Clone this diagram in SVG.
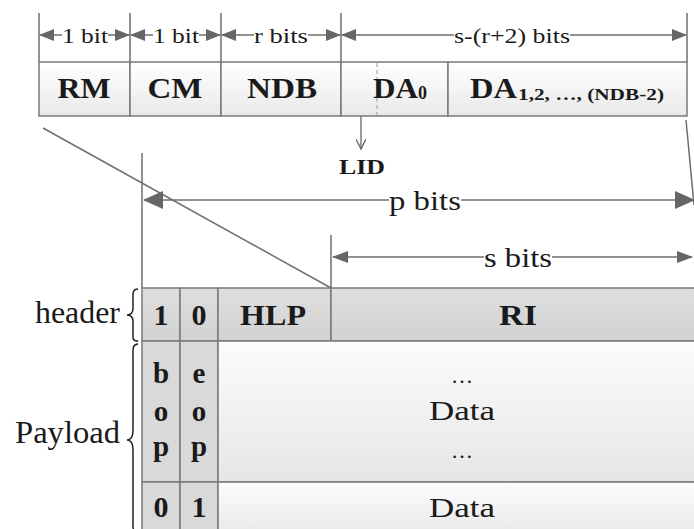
<svg xmlns="http://www.w3.org/2000/svg" width="694" height="529" viewBox="0 0 694 529">
<style>
.ln{stroke:#6e6e6e;stroke-width:1.5;fill:none}
.cell{stroke:#7a7a7a;stroke-width:1.5}
.t{font-family:"Liberation Serif","Times New Roman",serif;fill:#1a1a1a;text-anchor:middle}
.s{text-anchor:start}
.b{font-weight:bold}
.bg{fill:#fff}
</style>
<defs>
<marker id="ah" markerUnits="userSpaceOnUse" markerWidth="15" markerHeight="12" refX="14" refY="6" viewBox="0 0 15 12" orient="auto-start-reverse"><path d="M0,0 L15,6 L0,12 z" fill="#666"/></marker>
<marker id="ahb" markerUnits="userSpaceOnUse" markerWidth="20" markerHeight="18" refX="19" refY="9" viewBox="0 0 20 18" orient="auto-start-reverse"><path d="M0,0 L20,9 L0,18 z" fill="#666"/></marker>
<marker id="ahs" markerUnits="userSpaceOnUse" markerWidth="16" markerHeight="12" refX="15" refY="6" viewBox="0 0 16 12" orient="auto-start-reverse"><path d="M0,0 L16,6 L0,12 z" fill="#666"/></marker>
<marker id="open" markerUnits="userSpaceOnUse" markerWidth="12" markerHeight="10" refX="10" refY="5" viewBox="0 0 12 10" orient="auto"><path d="M0,0 L10,5 L0,10" fill="none" stroke="#666" stroke-width="1.3"/></marker>
<linearGradient id="gTop" x1="0" y1="0" x2="0" y2="1"><stop offset="0" stop-color="#ffffff"/><stop offset="1" stop-color="#e9e9e9"/></linearGradient>
<linearGradient id="gHead" x1="0" y1="0" x2="0" y2="1"><stop offset="0" stop-color="#dedede"/><stop offset="1" stop-color="#d2d2d2"/></linearGradient>
<linearGradient id="gData" x1="0" y1="0" x2="0" y2="1"><stop offset="0" stop-color="#fcfcfc"/><stop offset="1" stop-color="#e6e6e6"/></linearGradient>
</defs>

<g id="connectors">
<line class="ln" x1="39" y1="13" x2="39" y2="62"/>
<line class="ln" x1="130" y1="13" x2="130" y2="62"/>
<line class="ln" x1="221" y1="13" x2="221" y2="62"/>
<line class="ln" x1="341" y1="13" x2="341" y2="62"/>
<line class="ln" x1="687" y1="13" x2="687" y2="62"/>
<line class="ln" x1="40" y1="35" x2="129" y2="35" marker-start="url(#ah)" marker-end="url(#ah)"/>
<line class="ln" x1="131" y1="35" x2="220" y2="35" marker-start="url(#ah)" marker-end="url(#ah)"/>
<line class="ln" x1="222" y1="35" x2="340" y2="35" marker-start="url(#ah)" marker-end="url(#ah)"/>
<line class="ln" x1="342" y1="35" x2="686" y2="35" marker-start="url(#ah)" marker-end="url(#ah)"/>
<line class="ln" x1="43" y1="128" x2="331" y2="288"/>
<line class="ln" x1="686" y1="120" x2="694" y2="205"/>
<line class="ln" x1="142" y1="153" x2="142" y2="288"/>
<line class="ln" x1="144" y1="200" x2="694" y2="200" marker-start="url(#ahb)" marker-end="url(#ahb)"/>
<line class="ln" x1="331" y1="235" x2="331" y2="288"/>
<line class="ln" x1="333" y1="257" x2="692" y2="257" marker-start="url(#ahs)" marker-end="url(#ahs)"/>
<line x1="361" y1="98" x2="361" y2="149" stroke="#666" stroke-width="1.3" marker-end="url(#open)"/>
</g>

<g id="dim-labels">
<rect class="bg" x="62" y="24" width="46" height="20"/>
<text class="t" x="85" y="43" font-size="22" textLength="46" lengthAdjust="spacingAndGlyphs">1 bit</text>
<rect class="bg" x="153" y="24" width="46" height="20"/>
<text class="t" x="176" y="43" font-size="22" textLength="46" lengthAdjust="spacingAndGlyphs">1 bit</text>
<rect class="bg" x="254" y="24" width="54" height="20"/>
<text class="t" x="281" y="43" font-size="22" textLength="54" lengthAdjust="spacingAndGlyphs">r bits</text>
<rect class="bg" x="454" y="24" width="116" height="20"/>
<text class="t" x="512" y="43" font-size="22" textLength="116" lengthAdjust="spacingAndGlyphs">s-(r+2) bits</text>
<rect class="bg" x="389" y="188" width="72" height="22"/>
<text class="t" x="425" y="210" font-size="28" textLength="72" lengthAdjust="spacingAndGlyphs">p bits</text>
<rect class="bg" x="484" y="245" width="68" height="22"/>
<text class="t" x="518" y="267" font-size="28" textLength="68" lengthAdjust="spacingAndGlyphs">s bits</text>
<text class="t b" x="362" y="174" font-size="22" textLength="46" lengthAdjust="spacingAndGlyphs">LID</text>
</g>

<g id="top-fields">
<g id="f-rm"><rect class="cell" x="39" y="62" width="91" height="54" fill="url(#gTop)"/><text class="t b" x="84" y="98" font-size="30" textLength="53" lengthAdjust="spacingAndGlyphs">RM</text></g>
<g id="f-cm"><rect class="cell" x="130" y="62" width="91" height="54" fill="url(#gTop)"/><text class="t b" x="175" y="98" font-size="30" textLength="55" lengthAdjust="spacingAndGlyphs">CM</text></g>
<g id="f-ndb"><rect class="cell" x="221" y="62" width="120" height="54" fill="url(#gTop)"/><text class="t b" x="282" y="98" font-size="30" textLength="70" lengthAdjust="spacingAndGlyphs">NDB</text></g>
<g id="f-da0"><rect class="cell" x="341" y="62" width="107" height="54" fill="url(#gTop)"/><line x1="377" y1="63" x2="377" y2="115" stroke="#aaa" stroke-width="1.2" stroke-dasharray="4,3"/><text class="t b s" x="373" y="98" font-size="30"><tspan textLength="45" lengthAdjust="spacingAndGlyphs">DA</tspan><tspan font-size="18" dy="1">0</tspan></text></g>
<g id="f-da1"><rect class="cell" x="448" y="62" width="239" height="54" fill="url(#gTop)"/><text class="t b s" x="470" y="98" font-size="30" textLength="47" lengthAdjust="spacingAndGlyphs">DA</text><text class="t b s" x="518" y="100" font-size="17" textLength="146" lengthAdjust="spacingAndGlyphs">1,2, …, (NDB-2)</text></g>
</g>

<g id="packet">
<g id="c-h1"><rect class="cell" x="142" y="288" width="38" height="53" fill="url(#gHead)"/><text class="t b" x="161" y="325" font-size="30">1</text></g>
<g id="c-h0"><rect class="cell" x="180" y="288" width="38" height="53" fill="url(#gHead)"/><text class="t b" x="199" y="325" font-size="30">0</text></g>
<g id="c-hlp"><rect class="cell" x="218" y="288" width="113" height="53" fill="url(#gHead)"/><text class="t b" x="273" y="325" font-size="30" textLength="66" lengthAdjust="spacingAndGlyphs">HLP</text></g>
<g id="c-ri"><rect class="cell" x="331" y="288" width="370" height="53" fill="url(#gHead)"/><text class="t b" x="518" y="325" font-size="30" textLength="38" lengthAdjust="spacingAndGlyphs">RI</text></g>
<g id="c-bop"><rect class="cell" x="142" y="341" width="38" height="141" fill="#d9d9d9"/><text class="t b" x="161" y="383" font-size="29">b</text><text class="t b" x="161" y="421" font-size="29">o</text><text class="t b" x="161" y="456" font-size="29">p</text></g>
<g id="c-eop"><rect class="cell" x="180" y="341" width="38" height="141" fill="#d9d9d9"/><text class="t b" x="199" y="383" font-size="29">e</text><text class="t b" x="199" y="421" font-size="29">o</text><text class="t b" x="199" y="456" font-size="29">p</text></g>
<g id="c-data1"><rect class="cell" x="218" y="341" width="483" height="141" fill="url(#gData)"/><text class="t" x="462" y="383" font-size="22">…</text><text class="t" x="462" y="420" font-size="28" textLength="66" lengthAdjust="spacingAndGlyphs">Data</text><text class="t" x="462" y="458" font-size="22">…</text></g>
<g id="c-b0"><rect class="cell" x="142" y="482" width="38" height="60" fill="#d9d9d9"/><text class="t b" x="161" y="517" font-size="30">0</text></g>
<g id="c-b1"><rect class="cell" x="180" y="482" width="38" height="60" fill="#d9d9d9"/><text class="t b" x="199" y="517" font-size="30">1</text></g>
<g id="c-data2"><rect class="cell" x="218" y="482" width="483" height="60" fill="url(#gData)"/><text class="t" x="462" y="517" font-size="28" textLength="66" lengthAdjust="spacingAndGlyphs">Data</text></g>
</g>

<g id="braces">
<g id="lbl-header"><path d="M138,289 C132,289 133,294 133,300 L133,308 C133,313 131,315 127,315 C131,315 133,317 133,322 L133,332 C133,338 132,341 138,341" fill="none" stroke="#222" stroke-width="1.5"/><text class="t" x="120" y="323" font-size="31" style="text-anchor:end" textLength="85" lengthAdjust="spacingAndGlyphs">header</text></g>
<g id="lbl-payload"><path d="M138,344 C132,344 133,350 133,358 L133,430 C133,437 131,440 127,440 C131,440 133,443 133,450 L133,522 C133,528 132,531 138,531" fill="none" stroke="#222" stroke-width="1.5"/><text class="t" x="120" y="443" font-size="31" style="text-anchor:end" textLength="105" lengthAdjust="spacingAndGlyphs">Payload</text></g>
</g>
</svg>
